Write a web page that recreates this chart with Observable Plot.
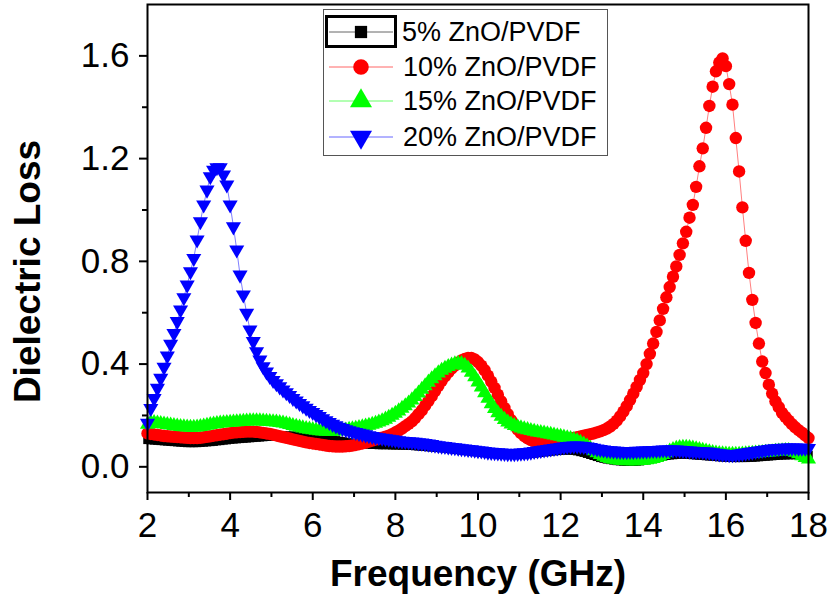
<!DOCTYPE html>
<html><head><meta charset="utf-8">
<script src="https://cdn.jsdelivr.net/npm/d3@7"></script>
<script src="https://cdn.jsdelivr.net/npm/@observablehq/plot@0.6"></script>
<style>body{margin:0;background:#fff}#chart{width:832px;height:605px}</style>
</head><body><div id="chart"></div>
<script>
// Measurement grid: 2–18 GHz, 201 points (0.08 GHz step)
const freqStart = 2, freqStep = 0.08;

const loss5 = [
0.105,0.104,0.103,0.102,0.101,0.1,0.099,0.098,0.097,0.096,
0.095,0.094,0.093,0.093,0.093,0.093,0.094,0.095,0.096,0.097,
0.098,0.1,0.101,0.103,0.104,0.106,0.107,0.108,0.109,0.11,
0.111,0.112,0.113,0.114,0.115,0.116,0.117,0.118,0.119,0.12,
0.12,0.121,0.121,0.121,0.121,0.12,0.12,0.119,0.118,0.117,
0.116,0.114,0.113,0.111,0.109,0.107,0.105,0.103,0.101,0.099,
0.097,0.095,0.093,0.092,0.09,0.089,0.088,0.087,0.086,0.086,
0.085,0.085,0.085,0.085,0.084,0.084,0.084,0.083,0.083,0.082,
0.082,0.081,0.08,0.079,0.078,0.077,0.076,0.075,0.074,0.073,
0.072,0.07,0.069,0.067,0.066,0.064,0.063,0.061,0.06,0.058,
0.057,0.055,0.054,0.053,0.051,0.05,0.049,0.048,0.048,0.047,
0.047,0.047,0.047,0.048,0.049,0.05,0.051,0.052,0.054,0.055,
0.057,0.058,0.06,0.061,0.062,0.063,0.064,0.064,0.064,0.063,
0.061,0.058,0.055,0.051,0.047,0.043,0.039,0.035,0.032,0.029,
0.027,0.025,0.023,0.022,0.021,0.02,0.02,0.02,0.021,0.022,
0.024,0.026,0.029,0.032,0.035,0.038,0.041,0.043,0.045,0.046,
0.047,0.048,0.048,0.048,0.047,0.046,0.045,0.044,0.043,0.042,
0.041,0.04,0.039,0.038,0.037,0.036,0.036,0.035,0.035,0.035,
0.035,0.035,0.036,0.036,0.037,0.038,0.039,0.04,0.041,0.042,
0.043,0.044,0.045,0.045,0.046,0.046,0.046,0.046,0.046,0.046,
0.046];

const loss10 = [
0.13,0.128,0.126,0.124,0.122,0.12,0.119,0.118,0.117,0.116,
0.115,0.114,0.113,0.112,0.112,0.112,0.113,0.115,0.117,0.119,
0.121,0.123,0.125,0.127,0.129,0.131,0.133,0.134,0.135,0.136,
0.137,0.137,0.137,0.136,0.134,0.132,0.13,0.128,0.125,0.122,
0.119,0.116,0.113,0.11,0.107,0.104,0.101,0.098,0.095,0.093,
0.091,0.089,0.087,0.085,0.083,0.081,0.08,0.079,0.079,0.079,
0.08,0.081,0.083,0.085,0.088,0.091,0.094,0.098,0.102,0.106,
0.11,0.113,0.117,0.121,0.127,0.134,0.141,0.149,0.158,0.167,
0.177,0.19,0.205,0.22,0.238,0.256,0.275,0.295,0.315,0.335,
0.352,0.368,0.382,0.394,0.405,0.414,0.42,0.424,0.424,0.418,
0.408,0.394,0.376,0.355,0.332,0.307,0.281,0.255,0.229,0.205,
0.182,0.162,0.145,0.131,0.12,0.111,0.104,0.099,0.095,0.093,
0.092,0.092,0.093,0.095,0.097,0.1,0.103,0.106,0.109,0.112,
0.115,0.118,0.121,0.124,0.127,0.13,0.134,0.138,0.143,0.149,
0.157,0.167,0.18,0.196,0.215,0.236,0.26,0.285,0.311,0.338,
0.365,0.4,0.44,0.48,0.525,0.57,0.615,0.66,0.7,0.74,
0.78,0.825,0.87,0.915,0.97,1.02,1.09,1.17,1.24,1.32,
1.405,1.48,1.54,1.574,1.59,1.56,1.49,1.41,1.28,1.15,
1.01,0.88,0.755,0.65,0.56,0.48,0.41,0.365,0.32,0.285,
0.255,0.232,0.21,0.194,0.18,0.166,0.154,0.143,0.133,0.122,
0.112];

const loss15 = [
0.165,0.172,0.172,0.17,0.168,0.166,0.164,0.162,0.16,0.158,
0.156,0.155,0.154,0.153,0.153,0.154,0.156,0.158,0.161,0.164,
0.166,0.168,0.17,0.171,0.172,0.173,0.174,0.175,0.176,0.177,
0.178,0.179,0.179,0.179,0.179,0.178,0.177,0.176,0.175,0.174,
0.172,0.17,0.167,0.164,0.16,0.157,0.154,0.151,0.148,0.146,
0.144,0.142,0.14,0.139,0.138,0.138,0.138,0.139,0.14,0.142,
0.143,0.145,0.147,0.149,0.152,0.155,0.158,0.161,0.165,0.169,
0.174,0.179,0.185,0.192,0.2,0.208,0.217,0.227,0.237,0.248,
0.26,0.273,0.287,0.301,0.315,0.329,0.342,0.354,0.365,0.375,
0.383,0.39,0.396,0.4,0.402,0.401,0.395,0.384,0.368,0.35,
0.33,0.31,0.288,0.266,0.245,0.226,0.21,0.196,0.184,0.174,
0.166,0.16,0.155,0.151,0.147,0.144,0.141,0.138,0.135,0.133,
0.131,0.128,0.126,0.123,0.12,0.118,0.115,0.112,0.109,0.106,
0.101,0.095,0.088,0.08,0.071,0.062,0.054,0.047,0.041,0.036,
0.032,0.029,0.027,0.025,0.024,0.023,0.023,0.023,0.023,0.024,
0.025,0.027,0.029,0.032,0.036,0.041,0.047,0.054,0.061,0.067,
0.071,0.074,0.075,0.075,0.074,0.072,0.07,0.067,0.064,0.061,
0.058,0.055,0.053,0.051,0.05,0.049,0.048,0.048,0.048,0.048,
0.049,0.05,0.051,0.052,0.053,0.054,0.055,0.056,0.057,0.058,
0.06,0.061,0.062,0.063,0.063,0.06,0.056,0.05,0.043,0.036,
0.03];

const loss20 = [
0.17,0.228,0.267,0.306,0.345,0.388,0.432,0.478,0.52,0.566,
0.611,0.659,0.708,0.76,0.812,0.884,0.955,1.02,1.078,1.13,
1.155,1.165,1.165,1.137,1.098,1.02,0.935,0.845,0.747,0.67,
0.598,0.533,0.488,0.449,0.416,0.39,0.37,0.352,0.337,0.324,
0.312,0.3,0.289,0.278,0.267,0.257,0.247,0.238,0.229,0.22,
0.212,0.204,0.196,0.188,0.18,0.173,0.166,0.16,0.155,0.15,
0.145,0.141,0.137,0.134,0.131,0.128,0.125,0.122,0.119,0.116,
0.114,0.112,0.11,0.108,0.106,0.104,0.102,0.1,0.099,0.098,
0.097,0.096,0.094,0.093,0.091,0.089,0.087,0.085,0.083,0.081,
0.08,0.078,0.076,0.075,0.073,0.071,0.07,0.068,0.067,0.065,
0.063,0.062,0.06,0.058,0.057,0.056,0.055,0.054,0.053,0.052,
0.052,0.052,0.053,0.054,0.055,0.056,0.058,0.06,0.062,0.064,
0.066,0.068,0.07,0.072,0.074,0.076,0.078,0.08,0.081,0.082,
0.082,0.081,0.08,0.078,0.076,0.073,0.07,0.068,0.066,0.064,
0.063,0.062,0.061,0.06,0.06,0.06,0.06,0.06,0.061,0.061,
0.062,0.062,0.063,0.064,0.064,0.065,0.066,0.066,0.066,0.066,
0.066,0.065,0.064,0.063,0.062,0.061,0.06,0.06,0.059,0.058,
0.057,0.055,0.053,0.051,0.05,0.049,0.048,0.048,0.049,0.05,
0.052,0.054,0.056,0.058,0.06,0.062,0.064,0.066,0.068,0.07,
0.071,0.072,0.073,0.073,0.074,0.074,0.074,0.073,0.073,0.073,
0.072];

const seriesNames = ["5% ZnO/PVDF", "10% ZnO/PVDF", "15% ZnO/PVDF", "20% ZnO/PVDF"];
const seriesValues = [loss5, loss10, loss15, loss20];
const seriesColors = ["#000000", "#ff0000", "#00ff00", "#0000ff"];
const seriesSymbols = ["square", "circle", "triangle", "triangle"];
const seriesRotate = [0, 0, 0, 180];
const seriesR = [4.8, 6.2, 5.6, 5.6];

const xTicks = [2, 4, 6, 8, 10, 12, 14, 16, 18];
const xMinorTicks = [3, 5, 7, 9, 11, 13, 15, 17];
const yTicks = [0.0, 0.4, 0.8, 1.2, 1.6];
const yMinorTicks = [0.2, 0.6, 1.0, 1.4];
const xTitle = "Frequency (GHz)";
const yTitle = "Dielectric Loss";

const FONT = "'Liberation Sans', Arial, sans-serif";

const seriesData = seriesValues.map((vals, s) =>
  vals.map((v, i) => ({f: freqStart + i * freqStep, v, s})));

const dataMarks = [];
seriesData.forEach((d, s) => {
  dataMarks.push(Plot.line(d, {x: "f", y: "v", stroke: seriesColors[s], strokeWidth: 1, strokeOpacity: 0.5}));
  dataMarks.push(Plot.dot(d, {x: "f", y: "v", fill: seriesColors[s], stroke: "none",
    symbol: seriesSymbols[s], r: seriesR[s], rotate: seriesRotate[s]}));
});

const svg = Plot.plot({
  width: 832, height: 605,
  marginLeft: 147, marginRight: 24, marginTop: 4, marginBottom: 113,
  style: {fontFamily: FONT, fontSize: "35px", color: "#000", background: "#fff"},
  x: {domain: [2, 18]},
  y: {domain: [-0.1, 1.8]},
  marks: [
    ...dataMarks,
    Plot.axisX({ticks: xTicks, tickSize: 8, tickPadding: 12, strokeWidth: 2, label: null, tickFormat: d => String(d)}),
    Plot.axisX({ticks: xMinorTicks, tickSize: 5, strokeWidth: 2, label: null, text: null}),
    Plot.axisY({ticks: yTicks, tickSize: 8, tickPadding: 10, strokeWidth: 2, label: null, tickFormat: d => d.toFixed(1)}),
    Plot.axisY({ticks: yMinorTicks, tickSize: 5, strokeWidth: 2, label: null, text: null}),
    Plot.frame({stroke: "#000", strokeWidth: 2}),
    Plot.text([xTitle], {frameAnchor: "bottom", dy: 93, fontSize: 37, fontWeight: "bold", textAnchor: "middle"}),
    Plot.text([yTitle], {frameAnchor: "left", rotate: -90, dx: -119, dy: 23, fontSize: 37, fontWeight: "bold", textAnchor: "middle"})
  ]
});
document.getElementById("chart").appendChild(svg);

// Legend (Origin-style box)
const lg = d3.select(svg).append("g").attr("font-family", FONT).attr("text-anchor", "start");
lg.append("rect").attr("x", 323.5).attr("y", 9.5).attr("width", 284).attr("height", 146)
  .attr("fill", "#fff").attr("stroke", "#555").attr("stroke-width", 1);
const rowY = [32, 67, 101, 137];
const legendSizes = [150, 190, 210, 210];
seriesNames.forEach((name, s) => {
  const y = rowY[s];
  lg.append("line").attr("x1", 329).attr("x2", 393).attr("y1", y).attr("y2", y)
    .attr("stroke", seriesColors[s]).attr("stroke-opacity", 0.6).attr("stroke-width", 1);
  const typ = {square: d3.symbolSquare, circle: d3.symbolCircle, triangle: d3.symbolTriangle}[seriesSymbols[s]];
  lg.append("path").attr("d", d3.symbol(typ, legendSizes[s])())
    .attr("transform", `translate(361,${y}) rotate(${seriesRotate[s]})`)
    .attr("fill", seriesColors[s]);
  lg.append("text").attr("x", s === 0 ? 402 : 403).attr("y", y).attr("dy", "0.35em")
    .attr("text-anchor", "start").attr("font-size", 27).attr("fill", "#000").text(name);
});
lg.append("rect").attr("x", 326.5).attr("y", 16.5).attr("width", 69).attr("height", 30)
  .attr("fill", "none").attr("stroke", "#000").attr("stroke-width", 3);
</script>
</body></html>
